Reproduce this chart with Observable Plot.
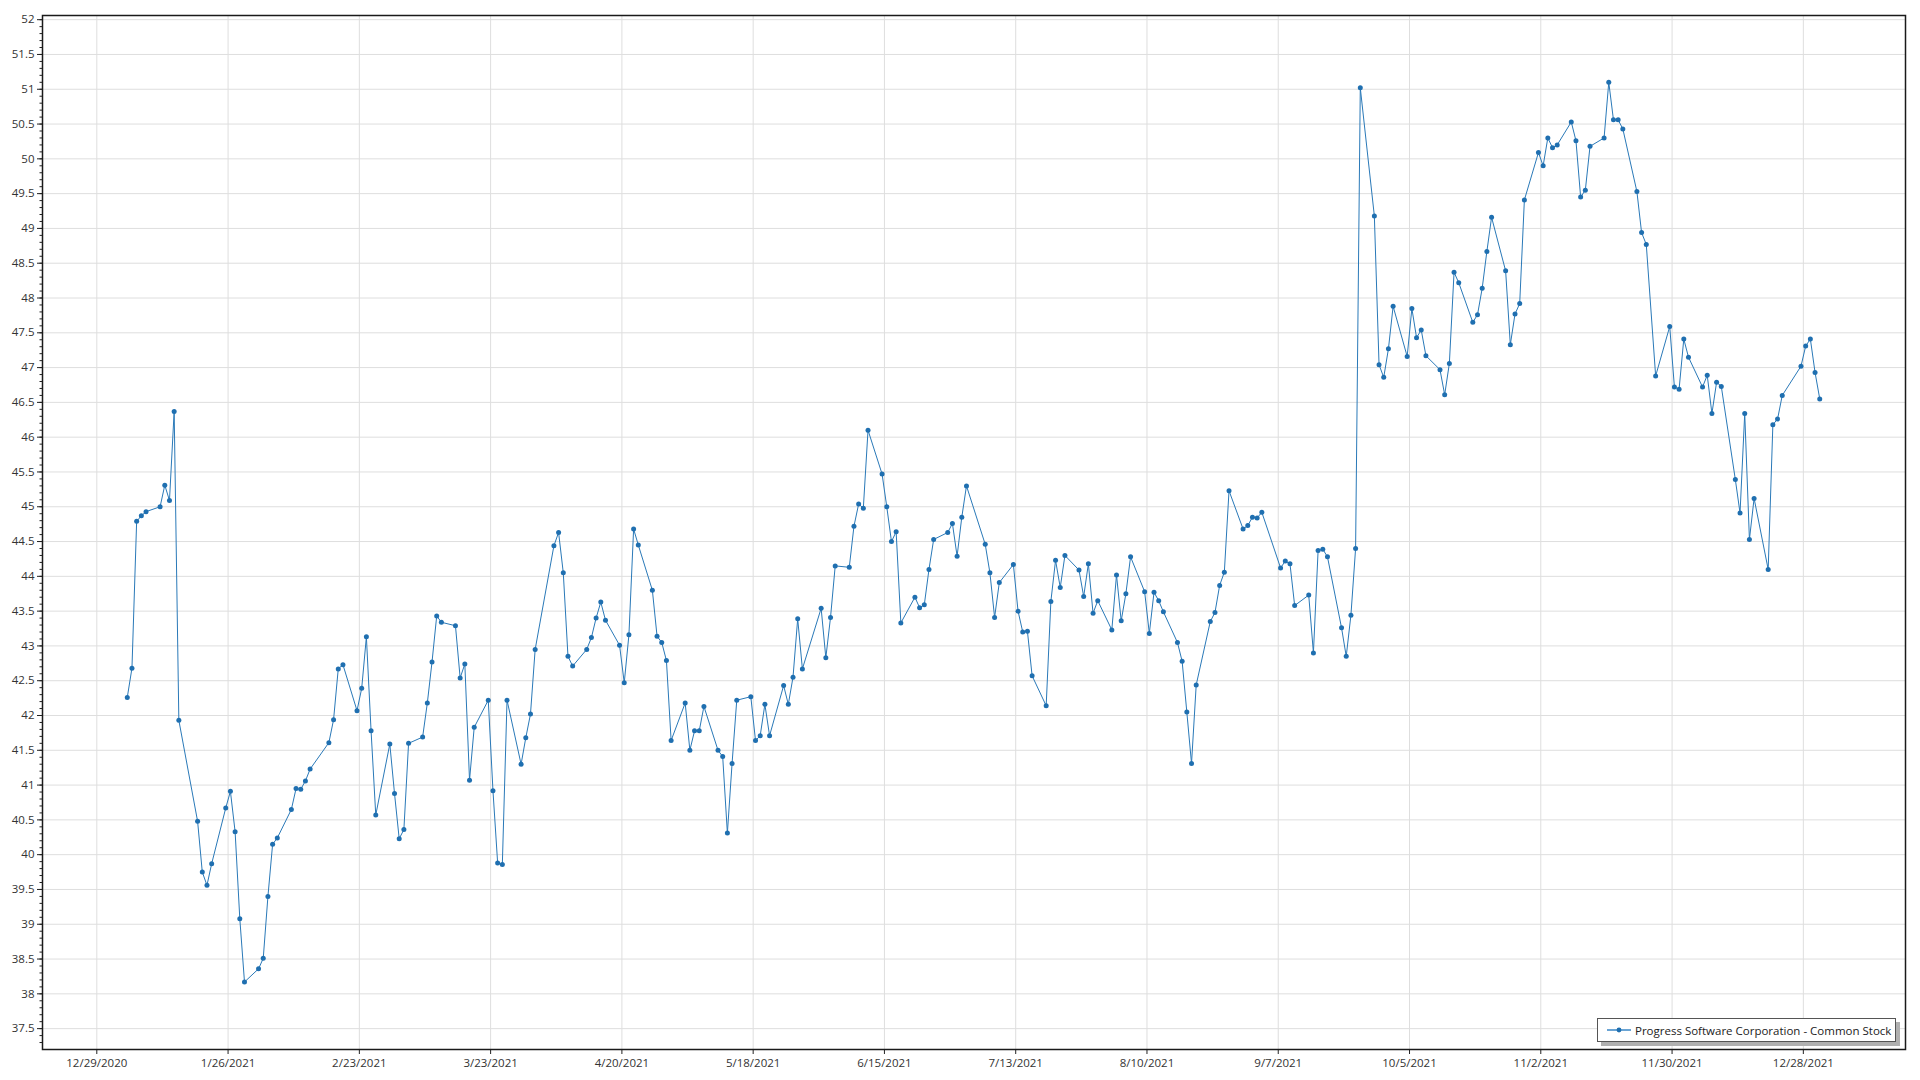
<!DOCTYPE html>
<html>
<head>
<meta charset="utf-8">
<script src="https://cdn.jsdelivr.net/npm/d3@7"></script>
<script src="https://cdn.jsdelivr.net/npm/@observablehq/plot@0.6"></script>
<style>
  html, body { margin: 0; padding: 0; background: #fff; }
  #wrap { position: relative; width: 1920px; height: 1080px; overflow: hidden; }
  #legend {
    position: absolute; left: 1597px; top: 1018px; width: 299px; height: 24px;
    border: 1.5px solid #555; background: #fff; box-shadow: 4px 4px 0 #b0b0b0;
    font-family: "Open Sans", sans-serif; font-size: 11.5px; color: #222;
    display: flex; align-items: center; box-sizing: border-box;
  }
  #legend svg { margin-left: 9px; margin-right: 4px; }
</style>
</head>
<body>
<div id="wrap">
  <div id="chart"></div>
  <div id="legend"></div>
</div>
<script>
const seriesName = "Progress Software Corporation - Common Stock";

const dates = [
"2021-01-04","2021-01-05","2021-01-06","2021-01-07","2021-01-08","2021-01-11","2021-01-12","2021-01-13","2021-01-14","2021-01-15",
"2021-01-19","2021-01-20","2021-01-21","2021-01-22","2021-01-25","2021-01-26","2021-01-27","2021-01-28","2021-01-29",
"2021-02-01","2021-02-02","2021-02-03","2021-02-04","2021-02-05","2021-02-08","2021-02-09","2021-02-10","2021-02-11","2021-02-12",
"2021-02-16","2021-02-17","2021-02-18","2021-02-19","2021-02-22","2021-02-23","2021-02-24","2021-02-25","2021-02-26",
"2021-03-01","2021-03-02","2021-03-03","2021-03-04","2021-03-05","2021-03-08","2021-03-09","2021-03-10","2021-03-11","2021-03-12",
"2021-03-15","2021-03-16","2021-03-17","2021-03-18","2021-03-19","2021-03-22","2021-03-23","2021-03-24","2021-03-25","2021-03-26",
"2021-03-29","2021-03-30","2021-03-31","2021-04-01","2021-04-05","2021-04-06","2021-04-07","2021-04-08","2021-04-09",
"2021-04-12","2021-04-13","2021-04-14","2021-04-15","2021-04-16","2021-04-19","2021-04-20","2021-04-21","2021-04-22","2021-04-23",
"2021-04-26","2021-04-27","2021-04-28","2021-04-29","2021-04-30",
"2021-05-03","2021-05-04","2021-05-05","2021-05-06","2021-05-07","2021-05-10","2021-05-11","2021-05-12","2021-05-13","2021-05-14",
"2021-05-17","2021-05-18","2021-05-19","2021-05-20","2021-05-21","2021-05-24","2021-05-25","2021-05-26","2021-05-27","2021-05-28",
"2021-06-01","2021-06-02","2021-06-03","2021-06-04","2021-06-07","2021-06-08","2021-06-09","2021-06-10","2021-06-11",
"2021-06-14","2021-06-15","2021-06-16","2021-06-17","2021-06-18","2021-06-21","2021-06-22","2021-06-23","2021-06-24","2021-06-25",
"2021-06-28","2021-06-29","2021-06-30","2021-07-01","2021-07-02","2021-07-06","2021-07-07","2021-07-08","2021-07-09",
"2021-07-12","2021-07-13","2021-07-14","2021-07-15","2021-07-16","2021-07-19","2021-07-20","2021-07-21","2021-07-22","2021-07-23",
"2021-07-26","2021-07-27","2021-07-28","2021-07-29","2021-07-30",
"2021-08-02","2021-08-03","2021-08-04","2021-08-05","2021-08-06","2021-08-09","2021-08-10","2021-08-11","2021-08-12","2021-08-13",
"2021-08-16","2021-08-17","2021-08-18","2021-08-19","2021-08-20","2021-08-23","2021-08-24","2021-08-25","2021-08-26","2021-08-27",
"2021-08-30","2021-08-31","2021-09-01","2021-09-02","2021-09-03","2021-09-07","2021-09-08","2021-09-09","2021-09-10",
"2021-09-13","2021-09-14","2021-09-15","2021-09-16","2021-09-17","2021-09-20","2021-09-21","2021-09-22","2021-09-23","2021-09-24",
"2021-09-27","2021-09-28","2021-09-29","2021-09-30","2021-10-01","2021-10-04","2021-10-05","2021-10-06","2021-10-07","2021-10-08",
"2021-10-11","2021-10-12","2021-10-13","2021-10-14","2021-10-15","2021-10-18","2021-10-19","2021-10-20","2021-10-21","2021-10-22",
"2021-10-25","2021-10-26","2021-10-27","2021-10-28","2021-10-29",
"2021-11-01","2021-11-02","2021-11-03","2021-11-04","2021-11-05","2021-11-08","2021-11-09","2021-11-10","2021-11-11","2021-11-12",
"2021-11-15","2021-11-16","2021-11-17","2021-11-18","2021-11-19","2021-11-22","2021-11-23","2021-11-24","2021-11-26",
"2021-11-29","2021-11-30","2021-12-01","2021-12-02","2021-12-03","2021-12-06","2021-12-07","2021-12-08","2021-12-09","2021-12-10",
"2021-12-13","2021-12-14","2021-12-15","2021-12-16","2021-12-17","2021-12-20","2021-12-21","2021-12-22","2021-12-23",
"2021-12-27","2021-12-28","2021-12-29","2021-12-30","2021-12-31"
];

const closes = [
42.26,42.68,44.79,44.87,44.93,45.00,45.31,45.09,46.37,41.93,
40.48,39.75,39.56,39.87,40.67,40.91,40.33,39.08,38.17,
38.36,38.51,39.40,40.15,40.24,40.65,40.95,40.94,41.06,41.23,
41.61,41.94,42.67,42.73,42.07,42.39,43.13,41.78,40.57,
41.59,40.88,40.23,40.36,41.60,41.69,42.18,42.77,43.43,43.34,
43.29,42.54,42.74,41.07,41.83,42.22,40.92,39.88,39.86,42.22,
41.30,41.68,42.02,42.95,44.44,44.63,44.05,42.85,42.71,
42.95,43.12,43.40,43.63,43.37,43.01,42.47,43.16,44.68,44.45,
43.80,43.14,43.05,42.79,41.64,
42.18,41.50,41.78,41.78,42.13,41.50,41.41,40.31,41.31,42.22,
42.27,41.64,41.71,42.16,41.71,42.43,42.16,42.55,43.39,42.67,
43.54,42.83,43.41,44.15,44.13,44.72,45.04,44.98,46.10,
45.47,45.00,44.50,44.64,43.33,43.70,43.55,43.59,44.10,44.53,
44.63,44.76,44.29,44.85,45.30,44.46,44.05,43.41,43.91,
44.17,43.50,43.20,43.21,42.57,42.14,43.64,44.23,43.84,44.30,
44.09,43.71,44.18,43.47,43.65,
43.23,44.02,43.36,43.75,44.28,43.78,43.18,43.77,43.65,43.49,
43.05,42.78,42.05,41.31,42.44,43.35,43.48,43.87,44.06,45.23,
44.68,44.73,44.85,44.84,44.92,44.12,44.22,44.18,43.58,
43.73,42.90,44.37,44.39,44.28,43.26,42.85,43.44,44.40,51.02,
49.18,47.04,46.86,47.27,47.88,47.16,47.85,47.43,47.54,47.17,
46.97,46.61,47.06,48.37,48.22,47.65,47.76,48.14,48.67,49.16,
48.39,47.33,47.77,47.92,49.41,
50.09,49.90,50.30,50.16,50.20,50.53,50.26,49.45,49.55,50.18,
50.30,51.10,50.56,50.56,50.43,49.53,48.94,48.77,46.88,
47.59,46.72,46.69,47.41,47.15,46.72,46.89,46.34,46.79,46.73,
45.39,44.91,46.34,44.53,45.12,44.10,46.18,46.26,46.60,
47.02,47.31,47.41,46.93,46.55
];

const xTickLabels = ["12/29/2020","1/26/2021","2/23/2021","3/23/2021","4/20/2021","5/18/2021","6/15/2021",
  "7/13/2021","8/10/2021","9/7/2021","10/5/2021","11/2/2021","11/30/2021","12/28/2021"];
const yTickLabels = ["37.5","38","38.5","39","39.5","40","40.5","41","41.5","42","42.5","43","43.5","44","44.5",
  "45","45.5","46","46.5","47","47.5","48","48.5","49","49.5","50","50.5","51","51.5","52"];

const parseLabel = s => { const [m, d, y] = s.split("/").map(Number); return new Date(Date.UTC(y, m - 1, d)); };
const xTicks = xTickLabels.map(parseLabel);
const yTicks = yTickLabels.map(Number);
const yMinor = d3.range(373, 521).map(v => v / 10);

const data = dates.map((d, i) => ({date: new Date(d + "T12:00:00Z"), close: closes[i]}));

const lineColor = "#2a79b8";
const dotColor = "#1f6fb0";

const chart = Plot.plot({
  width: 1920,
  height: 1080,
  marginLeft: 42,
  marginRight: 15,
  marginTop: 15,
  marginBottom: 31,
  x: {type: "utc", domain: [new Date("2020-12-17T10:00:00Z"), new Date("2022-01-18T19:00:00Z")]},
  y: {domain: [37.2, 52.06]},
  style: {fontFamily: "'Open Sans', sans-serif", fontSize: "11.5px", color: "#333", background: "#fff"},
  marks: [
    Plot.gridX(xTicks, {stroke: "#dedede", strokeOpacity: 1}),
    Plot.gridY(yTicks, {stroke: "#dedede", strokeOpacity: 1}),
    Plot.axisX(xTicks, {tickSize: 5, tickPadding: 4, label: null, stroke: "#222",
      tickFormat: d => xTickLabels[xTicks.findIndex(t => +t === +d)]}),
    Plot.axisY(yMinor, {tickSize: 2.5, label: null, stroke: "#222", tickFormat: () => ""}),
    Plot.axisY(yTicks, {tickSize: 5, tickPadding: 3, label: null, stroke: "#222",
      tickFormat: d => yTickLabels[yTicks.indexOf(d)]}),
    Plot.line(data, {x: "date", y: "close", stroke: lineColor, strokeWidth: 1}),
    Plot.dot(data, {x: "date", y: "close", r: 2.5, fill: dotColor, stroke: "none"}),
    Plot.frame({stroke: "#1a1a1a", strokeWidth: 1.5})
  ]
});
document.getElementById("chart").appendChild(chart);

const legend = document.getElementById("legend");
legend.innerHTML = `<svg width="24" height="10"><line x1="0" y1="5" x2="24" y2="5" stroke="#6aa4d4" stroke-width="2"/><circle cx="12" cy="5" r="2.4" fill="${dotColor}"/></svg><span>${seriesName}</span>`;
</script>
</body>
</html>
